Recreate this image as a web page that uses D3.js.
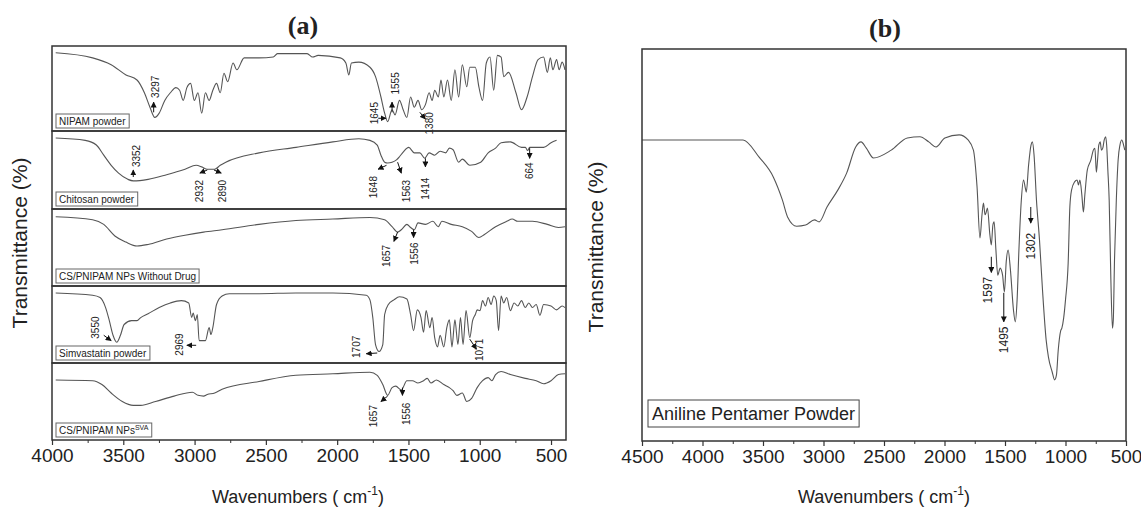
<!DOCTYPE html>
<html><head><meta charset="utf-8">
<script src="https://cdn.jsdelivr.net/npm/d3@7"></script>
<style>
body{margin:0;background:#fff}
svg{display:block}
text{font-family:"Liberation Sans",Arial,Helvetica,sans-serif;fill:#222}
</style>
</head><body>
<svg id="c" width="1141" height="509"></svg>
<script>
// ---------- DATA (wavenumber cm-1, transmittance %) ----------
const nipam = [[3974,92],[3715,86],[3585,78],[3481,66],[3404,60],[3352,45],[3313,28],[3279,16],[3248,21],[3209,36],[3170,45],[3131,51],[3105,48],[3080,36],[3054,51],[3028,56],[3002,36],[2976,45],[2950,21],[2924,45],[2898,36],[2872,48],[2846,56],[2820,45],[2794,68],[2768,58],[2730,80],[2704,72],[2652,86],[2548,86],[2448,87],[2419,91],[2211,91],[2172,87],[2133,89],[1978,86],[1939,80],[1918,66],[1900,80],[1848,81],[1770,75],[1731,64],[1693,40],[1667,21],[1646,11],[1615,25],[1594,19],[1563,36],[1537,25],[1511,16],[1485,40],[1459,28],[1433,36],[1407,25],[1381,31],[1355,45],[1334,36],[1316,48],[1290,40],[1272,60],[1252,40],[1226,60],[1200,36],[1174,72],[1148,40],[1122,78],[1091,52],[1070,75],[1031,75],[1006,52],[980,36],[954,80],[928,87],[902,48],[876,89],[850,87],[832,64],[798,69],[746,45],[707,25],[668,40],[630,64],[591,84],[552,87],[526,69],[505,86],[487,72],[461,84],[443,72],[422,81],[402,72]];
const chitosan = [[3974,91],[3767,88],[3689,82],[3637,69],[3585,56],[3533,46],[3468,38],[3430,36],[3326,38],[3196,44],[3067,51],[2989,56],[2950,54],[2911,51],[2859,51],[2820,56],[2781,60],[2548,72],[2289,79],[2030,86],[1848,90],[1770,88],[1719,82],[1693,69],[1667,60],[1646,59],[1615,60],[1584,63],[1563,67],[1537,73],[1498,79],[1459,72],[1420,72],[1386,65],[1355,72],[1316,69],[1278,74],[1239,72],[1213,78],[1187,76],[1148,60],[1122,64],[1070,56],[993,60],[941,72],[889,78],[850,85],[785,86],[707,79],[680,79],[664,75],[650,79],[617,79],[552,79],[500,85],[461,88]];
const csBlank = [[3974,90],[3715,86],[3637,80],[3559,65],[3481,57],[3404,52],[3326,54],[3196,61],[3067,66],[2937,70],[2807,73],[2548,80],[2289,85],[2030,87],[1770,89],[1667,86],[1615,77],[1576,70],[1550,73],[1511,80],[1485,76],[1459,73],[1433,82],[1381,80],[1329,84],[1291,77],[1265,84],[1200,80],[1122,77],[1057,71],[1006,63],[967,67],[889,77],[811,84],[772,87],[733,84],[630,84],[526,80],[448,76],[402,77]];
const simva = [[3974,91],[3715,88],[3663,85],[3624,72],[3598,55],[3572,36],[3546,27],[3520,36],[3494,50],[3442,55],[3404,55],[3378,59],[3326,64],[3248,72],[3170,78],[3093,81],[3041,78],[3020,59],[3010,65],[2994,55],[2981,63],[2968,29],[2924,29],[2898,46],[2885,37],[2872,46],[2846,76],[2807,87],[2756,90],[2548,90],[2289,91],[2030,91],[1796,88],[1770,82],[1750,59],[1731,24],[1706,15],[1680,24],[1667,63],[1641,76],[1602,82],[1563,86],[1511,83],[1485,63],[1464,42],[1438,69],[1412,59],[1394,40],[1376,68],[1350,46],[1334,59],[1316,33],[1296,21],[1278,36],[1252,21],[1231,46],[1213,56],[1195,21],[1174,56],[1153,24],[1135,59],[1117,24],[1096,68],[1070,33],[1050,55],[1031,63],[1018,69],[998,68],[980,81],[960,74],[941,85],[920,76],[902,87],[884,81],[868,42],[850,87],[832,78],[811,85],[785,68],[759,78],[733,74],[707,81],[681,72],[656,78],[630,72],[604,76],[578,62],[552,76],[500,74],[461,69],[422,74],[402,72]];
const csSva = [[3974,78],[3715,77],[3650,72],[3585,61],[3507,50],[3430,45],[3378,45],[3274,50],[3144,57],[3015,62],[2976,58],[2937,57],[2911,59],[2859,61],[2807,66],[2548,76],[2289,84],[2030,86],[1770,88],[1719,84],[1680,72],[1646,58],[1615,68],[1589,70],[1550,65],[1511,77],[1472,77],[1433,74],[1394,77],[1368,80],[1342,74],[1304,78],[1252,72],[1213,68],[1187,64],[1161,58],[1122,61],[1091,50],[1057,54],[1018,68],[980,77],[941,81],[915,77],[889,85],[850,89],[785,85],[681,80],[604,77],[552,73],[500,77],[448,85],[402,86]];
const aniline = [[4500,76.8],[3665,76.8],[3532,72.4],[3414,67.3],[3340,61.5],[3296,57.1],[3222,54.8],[3148,55.1],[3074,56.4],[3036,55.9],[2971,59.7],[2882,64.0],[2808,68.4],[2734,75.0],[2690,76.3],[2646,74.7],[2587,72.2],[2440,74.2],[2307,77.3],[2203,77.6],[2130,76.3],[2070,75.0],[1997,77.3],[1879,78.1],[1805,76.8],[1761,74.2],[1731,64.8],[1707,51.8],[1690,57.7],[1678,60.7],[1665,57.7],[1657,58.2],[1645,59.4],[1625,52.6],[1613,50.0],[1600,55.1],[1590,55.9],[1575,48.7],[1560,42.3],[1540,44.1],[1520,42.3],[1505,38.0],[1490,45.7],[1474,48.7],[1455,43.6],[1430,33.4],[1415,30.4],[1400,36.0],[1385,48.7],[1365,61.5],[1347,66.6],[1332,64.5],[1324,63.5],[1305,70.4],[1285,75.5],[1274,76.3],[1260,73.0],[1240,61.5],[1215,51.3],[1190,38.5],[1160,25.8],[1141,21.4],[1110,17.6],[1090,15.6],[1075,16.8],[1060,23.2],[1040,28.1],[1030,28.8],[1015,31.4],[1000,36.0],[978,45.4],[964,59.7],[950,64.0],[925,66.1],[904,66.6],[893,65.3],[881,66.6],[865,62.8],[852,58.4],[840,62.8],[820,69.1],[790,71.7],[770,74.2],[757,74.7],[745,68.6],[735,71.7],[725,75.5],[713,76.3],[703,74.2],[692,74.7],[680,76.8],[668,77.6],[660,75.5],[650,69.1],[639,61.5],[625,41.1],[612,28.8],[605,30.9],[595,46.2],[580,61.5],[565,71.7],[550,75.5],[535,76.8],[520,75.5],[510,74.2]];

// peak annotations: [label, textWn, textT, arrowFromWn, arrowFromT, arrowToWn, arrowToT]
const nipamPeaks = [["3297",3274,52,3287,22,3287,34],["1645",1739,21,1712,15,1658,15],["1555",1594,56,1615,22,1615,34],["1380",1350,9,1420,22,1381,14]];
const chitosanPeaks = [["3352",3409,68,3430,41,3430,50],["2932",2963,23,2911,50,2963,46],["2890",2807,23,2864,50,2813,46],["1648",1744,28,1654,56,1713,51],["1563",1516,23,1576,60,1550,46],["1414",1381,26,1381,65,1381,54],["664",650,49,650,78,650,65]];
const csBlankPeaks = [["1657",1654,39,1576,70,1602,58],["1556",1459,42,1464,73,1464,63]];
const simvaPeaks = [["3550",3694,46,3637,36,3585,29],["2969",3106,24,2989,23,3054,23],["1707",1861,21,1719,13,1796,12],["1071",1000,17,1070,31,1023,18]];
const csSvaPeaks = [["1657",1744,31,1646,57,1693,50],["1556",1516,34,1542,68,1542,58]];
const anilinePeaks = [["1302",1287,49.7,1287,59.7,1287,55.6],["1597",1642,38.5,1613,47,1613,43],["1495",1510,25.8,1510,37.8,1510,30.4]];

const stripNames = ["NIPAM powder","Chitosan powder","CS/PNIPAM NPs Without Drug","Simvastatin powder","CS/PNIPAM NPs"];
const stripSup = ["","","","","SVA"];
const ticksA = [4000,3500,3000,2500,2000,1500,1000,500];
const minorA = [3750,3250,2750,2250,1750,1250,750];
const ticksB = [4500,4000,3500,3000,2500,2000,1500,1000,500];
const minorB = [4250,3750,3250,2750,2250,1750,1250,750];

// ---------- LAYOUT ----------
const svg = d3.select("#c");
const defs = svg.append("defs");
defs.append("marker").attr("id","ah").attr("viewBox","0 0 10 10")
  .attr("refX",9).attr("refY",5).attr("markerWidth",6).attr("markerHeight",6)
  .attr("markerUnits","userSpaceOnUse").attr("orient","auto")
  .append("path").attr("d","M0,0L10,5L0,10Z").attr("fill","#111");

const lineColor = "#555", frameColor = "#333";
const curve = d3.curveMonotoneX;

function drawPeaks(g, peaks, x, y, fs){
  peaks.forEach(p=>{
    g.append("line").attr("x1",x(p[3])).attr("y1",y(p[4])).attr("x2",x(p[5])).attr("y2",y(p[6]))
      .attr("stroke","#111").attr("stroke-width",1).attr("marker-end","url(#ah)");
    g.append("text").attr("transform",`translate(${x(p[1])},${y(p[2])}) rotate(-90)`)
      .attr("text-anchor","middle").attr("dominant-baseline","central")
      .attr("font-size",fs).text(p[0]);
  });
}

function bottomAxis(g, x, y0, ticks, minor){
  const ax = d3.axisBottom(x).tickValues(ticks).tickSize(5).tickPadding(4).tickFormat(d3.format("d"));
  const a = g.append("g").attr("transform",`translate(0,${y0})`).call(ax);
  a.select(".domain").remove();
  a.selectAll(".tick line").attr("stroke",frameColor).attr("stroke-width",1.2);
  a.selectAll(".tick text").attr("font-size",19).attr("fill","#222")
    .attr("font-family",'"Liberation Sans",Arial,sans-serif');
  const ax2 = d3.axisBottom(x).tickValues(minor).tickSize(3).tickFormat("");
  const b = g.append("g").attr("transform",`translate(0,${y0})`).call(ax2);
  b.select(".domain").remove();
  b.selectAll(".tick line").attr("stroke",frameColor);
}

// ---------- PANEL A ----------
const bounds = [46,131,209,286,363,440];
const xA = d3.scaleLinear().domain([4000,395]).range([52,566]);
const seriesA = [nipam,chitosan,csBlank,simva,csSva];
const peaksA = [nipamPeaks,chitosanPeaks,csBlankPeaks,simvaPeaks,csSvaPeaks];
const gA = svg.append("g");

seriesA.forEach((s,i)=>{
  const top = bounds[i], bot = bounds[i+1];
  const y = d3.scaleLinear().domain([0,100]).range([bot,top]);
  const cid = "clipA"+i;
  defs.append("clipPath").attr("id",cid).append("rect")
    .attr("x",xA.range()[0]).attr("y",top).attr("width",xA.range()[1]-xA.range()[0]).attr("height",bot-top);
  gA.append("path").datum(s).attr("clip-path",`url(#${cid})`)
    .attr("fill","none").attr("stroke",lineColor).attr("stroke-width",1.1).attr("stroke-linejoin","round")
    .attr("d",d3.line().curve(curve).x(d=>xA(d[0])).y(d=>y(d[1])));
  gA.append("rect").attr("x",xA.range()[0]).attr("y",top).attr("width",xA.range()[1]-xA.range()[0]).attr("height",bot-top)
    .attr("fill","none").attr("stroke",frameColor).attr("stroke-width",1.5);
  const t = gA.append("text").attr("x",59).attr("y",bot-6).attr("font-size",10).text(stripNames[i]);
  if(stripSup[i]) t.append("tspan").attr("dy",-4).attr("font-size",7).text(stripSup[i]);
  const bb = t.node().getBBox();
  gA.append("rect").attr("x",56).attr("y",bot-17).attr("width",bb.width+6).attr("height",14)
    .attr("fill","none").attr("stroke","#666").attr("stroke-width",1);
  drawPeaks(gA, peaksA[i], xA, y, 10);
});
bottomAxis(gA, xA, 440, ticksA, minorA);

gA.append("text").attr("x",303).attr("y",34).attr("text-anchor","middle")
  .attr("font-size",26).attr("font-weight","bold")
  .style("font-family",'"Liberation Serif","Times New Roman",serif').text("(a)");
gA.append("text").attr("transform","translate(27,243) rotate(-90)").attr("text-anchor","middle")
  .attr("font-size",21).text("Transmittance (%)");
const xtA = gA.append("text").attr("x",298).attr("y",503).attr("text-anchor","middle").attr("font-size",18);
xtA.append("tspan").text("Wavenumbers ( cm");
xtA.append("tspan").attr("dy",-8).attr("font-size",12).text("-1");
xtA.append("tspan").attr("dy",8).text(")");

// ---------- PANEL B ----------
const xB = d3.scaleLinear().domain([4500,500]).range([642,1126]);
const yB = d3.scaleLinear().domain([0,100]).range([441,49]);
const gB = svg.append("g");
defs.append("clipPath").attr("id","clipB").append("rect").attr("x",642).attr("y",49).attr("width",484).attr("height",392);
gB.append("path").datum(aniline).attr("clip-path","url(#clipB)")
  .attr("fill","none").attr("stroke",lineColor).attr("stroke-width",1.1).attr("stroke-linejoin","round")
  .attr("d",d3.line().curve(curve).x(d=>xB(d[0])).y(d=>yB(d[1])));
gB.append("rect").attr("x",642).attr("y",49).attr("width",484).attr("height",392)
  .attr("fill","none").attr("stroke",frameColor).attr("stroke-width",1.5);
drawPeaks(gB, anilinePeaks, xB, yB, 12);
bottomAxis(gB, xB, 441, ticksB, minorB);
const lt = gB.append("text").attr("x",652).attr("y",420).attr("font-size",18).text("Aniline Pentamer Powder");
const lb = lt.node().getBBox();
gB.append("rect").attr("x",648).attr("y",400).attr("width",lb.width+8).attr("height",27)
  .attr("fill","none").attr("stroke","#444").attr("stroke-width",1);
gB.append("text").attr("x",885).attr("y",37).attr("text-anchor","middle")
  .attr("font-size",26).attr("font-weight","bold")
  .style("font-family",'"Liberation Serif","Times New Roman",serif').text("(b)");
gB.append("text").attr("transform","translate(603,247) rotate(-90)").attr("text-anchor","middle")
  .attr("font-size",21).text("Transmittance (%)");
const xtB = gB.append("text").attr("x",884).attr("y",503).attr("text-anchor","middle").attr("font-size",18);
xtB.append("tspan").text("Wavenumbers ( cm");
xtB.append("tspan").attr("dy",-8).attr("font-size",12).text("-1");
xtB.append("tspan").attr("dy",8).text(")");
</script>
</body></html>
